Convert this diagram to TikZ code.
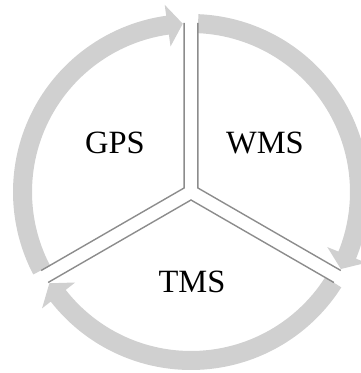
\documentclass[tikz,border=0pt]{standalone}
\usepackage{fontspec}
\setmainfont{Liberation Serif}
\usetikzlibrary{calc}
\definecolor{bandgray}{RGB}{208,208,208}
\definecolor{edgegray}{RGB}{140,140,140}
\tikzset{
  band/.style={fill=bandgray},
  wedgeline/.style={draw=edgegray, line width=1.4pt, line join=miter},
  label/.style={font=\fontsize{32.5}{38}\selectfont, inner sep=0pt}
}
\begin{document}
\begin{tikzpicture}[x=1pt,y=1pt]
\clip (0,0) rectangle (361,373);
\useasboundingbox (0,0) rectangle (361,373);
\begin{scope}[shift={(191,181)}]
  % circular arrows
  \foreach \k in {0,1,2}{
    \pgfmathsetmacro{\t}{92.8-120*\k}
    \pgfmathsetmacro{\a}{\t+114.8}
    \pgfmathsetmacro{\b}{\t+5.2}
    \fill[band] (\a:159) arc[start angle=\a, end angle=\b, radius=159]
      -- (\b:147) -- (\t:168.5) -- (\b:189) -- (\b:178)
      arc[start angle=\b, end angle=\a, radius=178] -- cycle;
  }
  % exploded pie wedges (radial edges)
  \foreach \m in {150,30,270}{
    \coordinate (apex\m) at (\m:8);
    \draw[wedgeline] ($(apex\m)+(\m+60:165)$) -- (apex\m) -- ($(apex\m)+(\m-60:165)$);
  }
\end{scope}
\node[label] (gps) at (115,230) {GPS};
\node[label] (wms) at (265,230) {WMS};
\node[label] (tms) at (192,91) {TMS};
\end{tikzpicture}
\end{document}
